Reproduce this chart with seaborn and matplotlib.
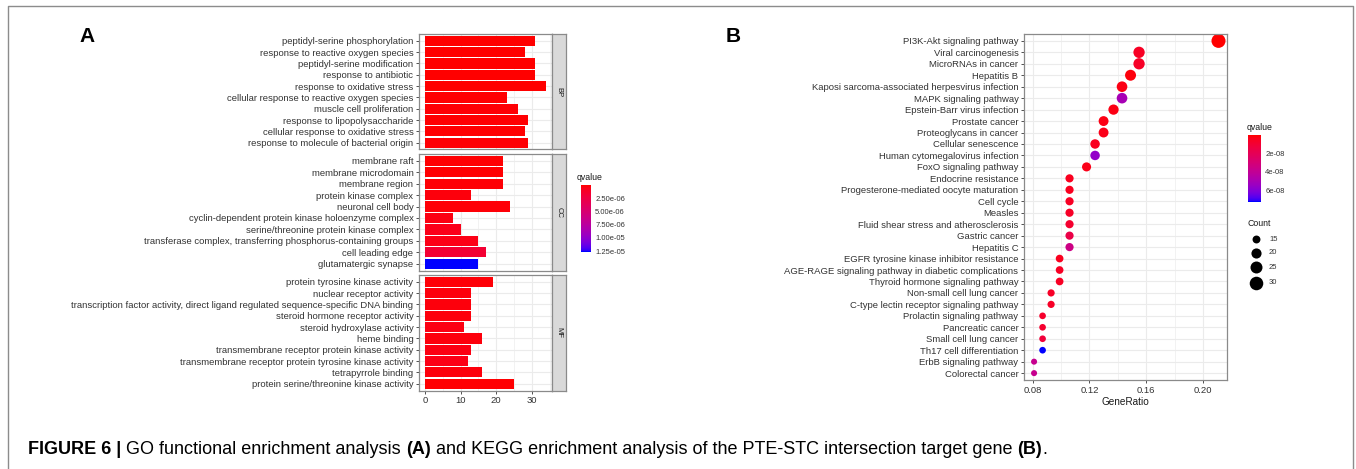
import numpy as np
import pandas as pd
import matplotlib
matplotlib.use("Agg")
import matplotlib.pyplot as plt
import seaborn as sns
from matplotlib.colors import ListedColormap, Normalize
from matplotlib.ticker import FixedLocator

# ---------------- data ----------------
bp_terms = ["peptidyl-serine phosphorylation", "response to reactive oxygen species",
            "peptidyl-serine modification", "response to antibiotic",
            "response to oxidative stress", "cellular response to reactive oxygen species",
            "muscle cell proliferation", "response to lipopolysaccharide",
            "cellular response to oxidative stress", "response to molecule of bacterial origin"]
bp_counts = [31, 28, 31, 31, 34, 23, 26, 29, 28, 29]
bp_q = [2.0e-8, 3.5e-8, 2.6e-8, 4.1e-8, 1.5e-8, 6.0e-8, 1.2e-7, 8.0e-8, 9.0e-8, 1.5e-7]

cc_terms = ["membrane raft", "membrane microdomain", "membrane region",
            "protein kinase complex", "neuronal cell body",
            "cyclin-dependent protein kinase holoenzyme complex",
            "serine/threonine protein kinase complex",
            "transferase complex, transferring phosphorus-containing groups",
            "cell leading edge", "glutamatergic synapse"]
cc_counts = [22, 22, 22, 13, 24, 8, 10, 15, 17, 15]
cc_q = [1.0e-7, 1.0e-7, 1.2e-7, 3.0e-7, 2.0e-7, 4.0e-7, 6.0e-7, 5.0e-7, 1.7e-6, 1.26e-5]

mf_terms = ["protein tyrosine kinase activity", "nuclear receptor activity",
            "transcription factor activity, direct ligand regulated sequence-specific DNA binding",
            "steroid hormone receptor activity", "steroid hydroxylase activity",
            "heme binding", "transmembrane receptor protein kinase activity",
            "transmembrane receptor protein tyrosine kinase activity",
            "tetrapyrrole binding", "protein serine/threonine kinase activity"]
mf_counts = [19, 13, 13, 13, 11, 16, 13, 12, 16, 25]
mf_q = [2e-7, 3e-7, 3e-7, 3e-7, 4e-7, 3e-7, 4e-7, 5e-7, 3e-7, 1e-7]

go_facets = ["BP", "CC", "MF"]
go_qticks = [2.5e-6, 5.0e-6, 7.5e-6, 1.0e-5, 1.25e-5]
go_qticklabels = ["2.50e-06", "5.00e-06", "7.50e-06", "1.00e-05", "1.25e-05"]
go_xticks = [0, 10, 20, 30]

kegg_terms = ["PI3K-Akt signaling pathway", "Viral carcinogenesis", "MicroRNAs in cancer",
              "Hepatitis B", "Kaposi sarcoma-associated herpesvirus infection",
              "MAPK signaling pathway", "Epstein-Barr virus infection", "Prostate cancer",
              "Proteoglycans in cancer", "Cellular senescence",
              "Human cytomegalovirus infection", "FoxO signaling pathway",
              "Endocrine resistance", "Progesterone-mediated oocyte maturation",
              "Cell cycle", "Measles", "Fluid shear stress and atherosclerosis",
              "Gastric cancer", "Hepatitis C", "EGFR tyrosine kinase inhibitor resistance",
              "AGE-RAGE signaling pathway in diabetic complications",
              "Thyroid hormone signaling pathway", "Non-small cell lung cancer",
              "C-type lectin receptor signaling pathway", "Prolactin signaling pathway",
              "Pancreatic cancer", "Small cell lung cancer", "Th17 cell differentiation",
              "ErbB signaling pathway", "Colorectal cancer"]
kegg_ratio = [0.211, 0.155, 0.155, 0.149, 0.143, 0.143, 0.137, 0.130, 0.130, 0.124,
              0.124, 0.118, 0.106, 0.106, 0.106, 0.106, 0.106, 0.106, 0.106, 0.099,
              0.099, 0.099, 0.093, 0.093, 0.087, 0.087, 0.087, 0.087, 0.081, 0.081]
kegg_count = [34, 25, 25, 24, 23, 23, 22, 21, 21, 20, 20, 19, 17, 17, 17, 17, 17, 17, 17,
              16, 16, 16, 15, 15, 14, 14, 14, 14, 13, 13]
kegg_q = [5e-10, 6e-9, 7e-9, 2e-9, 3e-9, 5.0e-8, 3e-9, 3e-9, 4e-9, 5e-9,
          5.6e-8, 4e-9, 5e-9, 5e-9, 6e-9, 7e-9, 9e-9, 1.6e-8, 3.5e-8, 5e-9,
          6e-9, 6e-9, 7e-9, 7e-9, 8e-9, 9e-9, 1.2e-8, 7.2e-8, 3.8e-8, 3.8e-8]
kegg_qticks = [2e-8, 4e-8, 6e-8]
kegg_qticklabels = ["2e-08", "4e-08", "6e-08"]
kegg_xticks = [0.08, 0.12, 0.16, 0.20]
count_legend = [15, 20, 25, 30]

caption_parts = [("FIGURE 6 | ", "bold"), ("GO functional enrichment analysis ", "normal"),
                 ("(A)", "bold"),
                 (" and KEGG enrichment analysis of the PTE-STC intersection target gene ", "normal"),
                 ("(B)", "bold"), (".", "normal")]

# ---------------- style ----------------
sns.set_theme(style="white")
plt.rcParams["font.family"] = ["Liberation Sans", "DejaVu Sans"]
TXT = "#333333"
GRID = "#EBEBEB"
BORDER = "#8A8A8A"

# red -> blue gradient interpolated in CIE Lab (like ggplot2)
_M = np.array([[0.4124, 0.3576, 0.1805], [0.2126, 0.7152, 0.0722], [0.0193, 0.1192, 0.9505]])
_Minv = np.linalg.inv(_M)
_WHITE = _M.sum(axis=1)


def _to_lab(rgb):
    c = np.asarray(rgb, float)
    lin = np.where(c <= 0.04045, c / 12.92, ((c + 0.055) / 1.055) ** 2.4)
    xyz = _M @ lin / _WHITE
    f = np.where(xyz > 0.008856, np.cbrt(xyz), 7.787 * xyz + 16 / 116)
    return np.array([116 * f[1] - 16, 500 * (f[0] - f[1]), 200 * (f[1] - f[2])])


def _from_lab(lab):
    L, a, b = lab
    fy = (L + 16) / 116
    f = np.array([fy + a / 500, fy, fy - b / 200])
    xyz = np.where(f ** 3 > 0.008856, f ** 3, (f - 16 / 116) / 7.787) * _WHITE
    lin = np.clip(_Minv @ xyz, 0, 1)
    s = np.where(lin <= 0.0031308, 12.92 * lin, 1.055 * lin ** (1 / 2.4) - 0.055)
    return np.clip(s, 0, 1)


_l0, _l1 = _to_lab([1, 0, 0]), _to_lab([0, 0, 1])
cmap = ListedColormap([_from_lab(_l0 + t * (_l1 - _l0)) for t in np.linspace(0, 1, 256)])

W, H = 1356, 469
fig = plt.figure(figsize=(W / 100, H / 100), dpi=100)


def rect(x0, y0, x1, y1):
    return [x0 / W, 1 - y1 / H, (x1 - x0) / W, (y1 - y0) / H]


def style_axes(ax):
    for s in ax.spines.values():
        s.set_color(BORDER)
        s.set_linewidth(0.9)
        s.set_visible(True)
    ax.tick_params(axis="both", which="major", length=2.5, width=0.6, color=TXT,
                   labelcolor=TXT, labelsize=6.8, pad=1.5, left=True, bottom=True)
    ax.tick_params(axis="both", which="minor", length=0)
    ax.set_axisbelow(True)
    ax.grid(True, which="major", color=GRID, lw=0.8)
    ax.grid(True, which="minor", axis="x", color=GRID, lw=0.45)
    ax.set_xlabel("")
    ax.set_ylabel("")


# ---------------- panel A ----------------
go_norm = Normalize(vmin=5e-9, vmax=1.263e-5)
facet_rows = [(34, 149.5), (154, 270.5), (275, 390.5)]
facet_data = [(bp_terms, bp_counts, bp_q), (cc_terms, cc_counts, cc_q),
              (mf_terms, mf_counts, mf_q)]
for i, (name, (top, bot), (terms, counts, qs)) in enumerate(zip(go_facets, facet_rows, facet_data)):
    ax = fig.add_axes(rect(419, top, 552, bot))
    df = pd.DataFrame({"Term": terms, "Count": counts, "q": qs})
    pal = {t: cmap(go_norm(q)) for t, q in zip(terms, qs)}
    sns.barplot(data=df, x="Count", y="Term", hue="Term", palette=pal, legend=False,
                width=0.9, saturation=1, linewidth=0, ax=ax)
    ax.set_xlim(-1.7, 35.7)
    ax.set_ylim(len(terms) - 0.4, -0.6)
    ax.xaxis.set_major_locator(FixedLocator(go_xticks))
    ax.xaxis.set_minor_locator(FixedLocator([5, 15, 25, 35]))
    style_axes(ax)
    if i < 2:
        ax.tick_params(axis="x", labelbottom=False, length=0)
    sax = fig.add_axes(rect(552, top, 566, bot))
    sax.set_facecolor("#D9D9D9")
    sax.set_xticks([])
    sax.set_yticks([])
    for s in sax.spines.values():
        s.set_color(BORDER)
        s.set_linewidth(0.9)
        s.set_visible(True)
    sax.text(0.5, 0.5, name, rotation=-90, ha="center", va="center",
             fontsize=5.5, color="#1A1A1A", transform=sax.transAxes)

caxA = fig.add_axes(rect(581, 185, 591, 251.7))
cbA = fig.colorbar(plt.cm.ScalarMappable(norm=go_norm, cmap=cmap), cax=caxA)
cbA.outline.set_visible(False)
cbA.set_ticks(go_qticks)
cbA.set_ticklabels(go_qticklabels)
caxA.invert_yaxis()
caxA.tick_params(axis="y", direction="in", length=2.5, width=0.6, color="white",
                 labelcolor=TXT, labelsize=5.5, left=True, right=True, pad=3)

# ---------------- panel B ----------------
kegg_norm = Normalize(vmin=3.6e-10, vmax=7.21e-8)
axB = fig.add_axes(rect(1024, 34, 1227, 380))
dfB = pd.DataFrame({"Description": kegg_terms, "GeneRatio": kegg_ratio,
                    "Count": kegg_count, "qvalue": kegg_q})
sizes = (19, 102)
sns.scatterplot(data=dfB, x="GeneRatio", y="Description", hue="qvalue", palette=cmap,
                hue_norm=kegg_norm, size="Count", sizes=sizes, size_norm=(13, 34),
                legend=False, linewidth=0, ax=axB)
axB.set_xlim(0.0739, 0.217)
axB.set_ylim(len(kegg_terms) - 0.4, -0.6)
axB.xaxis.set_major_locator(FixedLocator(kegg_xticks))
axB.xaxis.set_minor_locator(FixedLocator([0.10, 0.14, 0.18]))
style_axes(axB)
axB.set_xticklabels(["%.2f" % v for v in kegg_xticks])
axB.set_xlabel("GeneRatio", fontsize=7.2, color="#1A1A1A", labelpad=2)

caxB = fig.add_axes(rect(1248, 135, 1261, 201.7))
cbB = fig.colorbar(plt.cm.ScalarMappable(norm=kegg_norm, cmap=cmap), cax=caxB)
cbB.outline.set_visible(False)
cbB.set_ticks(kegg_qticks)
cbB.set_ticklabels(kegg_qticklabels)
caxB.invert_yaxis()
caxB.tick_params(axis="y", direction="in", length=2.5, width=0.6, color="white",
                 labelcolor=TXT, labelsize=5.5, left=True, right=True, pad=3)

# ---------------- overlay: frame, letters, legend titles, caption ----------------
ov = fig.add_axes([0, 0, 1, 1], zorder=-5)
ov.set_xlim(0, W)
ov.set_ylim(H, 0)
ov.axis("off")
ov.plot([8, 8, 1353, 1353], [H + 5, 6, 6, H + 5], color="#8C8C8C", lw=1.0, clip_on=False)
ov.text(87, 36, "A", fontsize=15, fontweight="bold", ha="center", va="center", color="black")
ov.text(733, 36, "B", fontsize=15, fontweight="bold", ha="center", va="center", color="black")
ov.text(577, 178, "qvalue", fontsize=6.3, ha="left", va="center", color="#1A1A1A")
ov.text(1247, 128, "qvalue", fontsize=6.3, ha="left", va="center", color="#1A1A1A")
ov.text(1247, 224, "Count", fontsize=6.3, ha="left", va="center", color="#1A1A1A")
leg_y = [239.5, 253, 267.5, 283]
leg_sizes = (24, 112)
for c, y in zip(count_legend, leg_y):
    s = leg_sizes[0] + (c - 13) / 21 * (leg_sizes[1] - leg_sizes[0])
    ov.scatter([1256], [y], s=s, color="black", linewidth=0, clip_on=False)
    ov.text(1269, y, str(c), fontsize=5.5, ha="left", va="center", color=TXT)

renderer = fig.canvas.get_renderer()
x = 28
for txt, wt in caption_parts:
    t = ov.text(x, 450, txt, fontsize=13, fontweight=wt, ha="left", va="center", color="black")
    bb = t.get_window_extent(renderer=renderer)
    x += bb.width

fig.savefig("out.png", dpi=100)
